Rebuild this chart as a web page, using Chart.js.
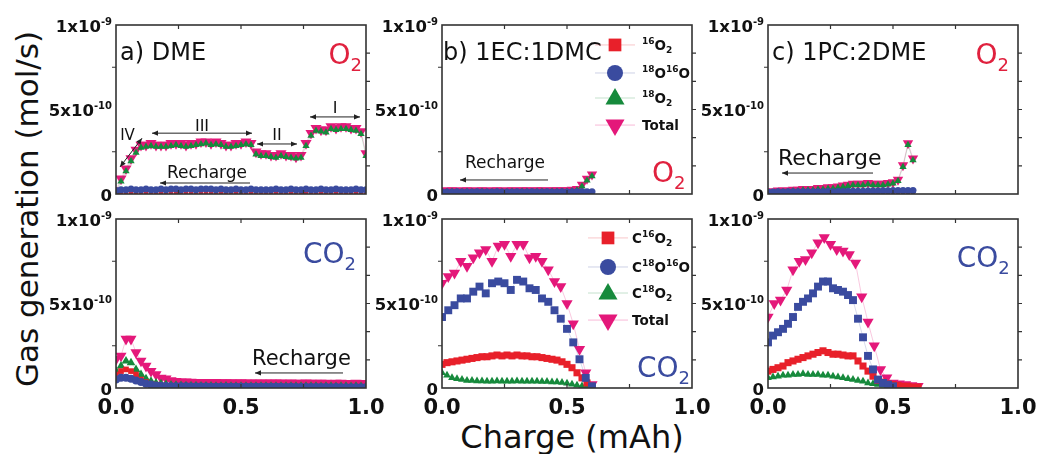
<!DOCTYPE html>
<html>
<head>
<meta charset="utf-8">
<script src="https://cdn.jsdelivr.net/npm/chart.js@4.4.0/dist/chart.umd.min.js"></script>
<style>
  body { margin: 0; background: #fff; }
  #fig { position: relative; width: 1037px; height: 454px; overflow: hidden; font-family: "DejaVu Sans", sans-serif; color: #111; }
  #fig canvas { position: absolute; }
  #ylabel { position: absolute; left: 27px; top: 209px; transform: translate(-50%, -50%) rotate(-90deg); font-size: 31px; line-height: 1; white-space: nowrap; }
  #xlabel { position: absolute; left: 572px; top: 437px; transform: translate(-50%, -50%); font-size: 32px; line-height: 1; white-space: nowrap; }
</style>
</head>
<body>
<div id="fig">
  <div id="ylabel">Gas generation (mol/s)</div>
  <div id="xlabel">Charge (mAh)</div>
</div>
<script>
// charge axis (mAh)
const chargeFine = [0,0.02,0.04,0.06,0.08,0.1,0.12,0.14,0.16,0.18,0.2,0.22,0.24,0.26,0.28,0.3,0.32,0.34,0.36,0.38,0.4,0.42,0.44,0.46,0.48,0.5,0.52,0.54,0.56,0.58,0.6,0.62,0.64,0.66,0.68,0.7,0.72,0.74,0.76,0.78,0.8,0.82,0.84,0.86,0.88,0.9,0.92,0.94,0.96,0.98,1.0];
const chargeCoarse = [0,0.025,0.05,0.075,0.1,0.125,0.15,0.175,0.2,0.225,0.25,0.275,0.3,0.325,0.35,0.375,0.4,0.425,0.45,0.475,0.5,0.525,0.55,0.575,0.6];

// values in units of 1e-10 mol/s
// a) DME, O2
const dmeO2Total = [0.2,0.9,1.5,2.1,2.6,2.9,2.9,3.0,2.9,2.9, 2.9,3.0,3.0,3.0,2.9,3.0,3.0,3.1,3.1,3.0, 3.1,3.0,2.9,2.9,3.0,3.0,3.1,3.0,2.5,2.4, 2.4,2.3,2.3,2.4,2.3,2.3,2.2,2.3,3.0,3.6, 3.9,3.8,3.8,4.0,3.9,4.0,4.0,3.9,3.9,3.7,2.4];
const dmeO2_18 = [0.1,0.75,1.35,1.95,2.45,2.75,2.8,2.85,2.8,2.8, 2.8,2.85,2.9,2.85,2.8,2.85,2.9,2.95,3.0,2.9, 2.95,2.9,2.8,2.8,2.85,2.9,2.95,2.9,2.35,2.25, 2.25,2.2,2.15,2.25,2.2,2.15,2.1,2.15,2.85,3.45, 3.75,3.7,3.65,3.85,3.8,3.85,3.85,3.8,3.75,3.55,2.25];
const dmeO2_1816 = [0.2,0.25,0.25,0.3,0.25,0.25,0.3,0.25,0.25,0.3, 0.25,0.3,0.3,0.25,0.3,0.3,0.25,0.3,0.3,0.3, 0.25,0.3,0.25,0.25,0.3,0.25,0.25,0.3,0.25,0.25, 0.25,0.25,0.3,0.25,0.25,0.3,0.25,0.25,0.3,0.25, 0.25,0.3,0.25,0.25,0.3,0.25,0.25,0.25,0.3,0.25,0.25];
const dmeO2_16 = [0.1,0.1,0.12,0.1,0.1,0.12,0.1,0.1,0.1,0.12, 0.1,0.1,0.12,0.1,0.1,0.1,0.12,0.1,0.1,0.1, 0.12,0.1,0.1,0.1,0.12,0.1,0.1,0.1,0.12,0.1, 0.1,0.1,0.12,0.1,0.1,0.1,0.12,0.1,0.1,0.1, 0.12,0.1,0.1,0.1,0.12,0.1,0.1,0.1,0.12,0.1,0.1];
// a) DME, CO2
const dmeCO2Total = [1.7,1.9,2.9,2.9,2.1,1.6,1.3,1.0,0.8,0.6, 0.55,0.45,0.4,0.38,0.37,0.36,0.35,0.35,0.34,0.34, 0.34,0.33,0.33,0.33,0.32,0.33,0.32,0.32,0.32,0.31, 0.32,0.31,0.31,0.31,0.3,0.31,0.3,0.3,0.31,0.3, 0.3,0.3,0.3,0.29,0.3,0.3,0.29,0.29,0.3,0.29,0.29];
const dmeCO2_18 = [1.0,1.3,1.6,1.5,1.1,0.8,0.55,0.4,0.3,0.25, 0.2,0.18,0.16,0.15,0.14,0.13,0.13,0.12,0.12,0.12, 0.11,0.11,0.12,0.11,0.11,0.1,0.11,0.1,0.1,0.11, 0.1,0.1,0.1,0.11,0.1,0.1,0.1,0.1,0.1,0.1, 0.1,0.09,0.1,0.1,0.09,0.1,0.1,0.09,0.1,0.09,0.09];
const dmeCO2_16 = [0.8,1.0,1.1,1.0,0.8,0.5,0.35,0.25,0.2,0.15, 0.13,0.12,0.11,0.1,0.1,0.1,0.09,0.09,0.1,0.09, 0.09,0.09,0.08,0.09,0.08,0.08,0.09,0.08,0.08,0.08, 0.08,0.08,0.07,0.08,0.08,0.07,0.08,0.07,0.07,0.08, 0.07,0.07,0.07,0.07,0.07,0.06,0.07,0.07,0.06,0.07,0.06];
const dmeCO2_1816 = [0.5,0.6,0.6,0.55,0.45,0.35,0.25,0.2,0.15,0.13, 0.12,0.11,0.1,0.1,0.1,0.09,0.09,0.09,0.09,0.08, 0.08,0.08,0.08,0.08,0.08,0.07,0.08,0.07,0.07,0.07, 0.07,0.07,0.07,0.07,0.06,0.07,0.06,0.06,0.06,0.06, 0.06,0.06,0.06,0.05,0.06,0.05,0.05,0.05,0.05,0.05,0.05];

// b) 1EC:1DMC, O2
const ecO2Total = [0.2,0.2,0.22,0.2,0.2,0.22,0.2,0.2,0.22,0.2, 0.2,0.22,0.2,0.2,0.22,0.2,0.22,0.22,0.2,0.22, 0.22,0.2,0.22,0.22,0.22,0.22,0.25,0.3,0.55,0.9,1.15];
const ecO2_18 = [0.12,0.12,0.14,0.12,0.12,0.14,0.12,0.12,0.14,0.12, 0.12,0.14,0.12,0.12,0.14,0.12,0.14,0.14,0.12,0.14, 0.14,0.12,0.14,0.14,0.14,0.14,0.17,0.22,0.45,0.8,1.05];
const ecO2_1816 = [0.12,0.12,0.12,0.13,0.12,0.12,0.12,0.13,0.12,0.12, 0.12,0.13,0.12,0.12,0.12,0.13,0.12,0.12,0.13,0.12, 0.12,0.13,0.12,0.12,0.13,0.12,0.13,0.13,0.14,0.14,0.14];
const ecO2_16 = [0.05,0.05,0.05,0.05,0.05,0.05,0.05,0.05,0.05,0.05, 0.05,0.05,0.05,0.05,0.05,0.05,0.05,0.05,0.05,0.05, 0.05,0.05,0.05,0.05,0.05,0.05,0.05,0.05,0.06,0.06,0.06];
// b) 1EC:1DMC, CO2
const ecCO2Total = [6.2,6.6,6.8,7.5,7.2,7.7,8.0,8.2,7.5,8.4,8.5,7.8,8.5,8.5,7.7,7.8,7.5,7.0,6.3,6.0,5.0,3.8,2.3,0.9,0.2];
const ecCO2_1816 = [4.2,4.6,4.9,5.3,5.3,5.7,6.0,5.6,6.2,6.3,6.2,5.8,6.4,6.3,5.9,5.8,5.3,5.1,4.6,4.1,3.5,2.7,1.7,0.6,0.1];
const ecCO2_16 = [1.4,1.5,1.55,1.6,1.65,1.7,1.75,1.8,1.85,1.85, 1.9,1.95,1.9,1.95,1.9,1.95,1.9,1.9,1.85,1.85, 1.8,1.75,1.7,1.65,1.55,1.4,1.2,0.9,0.6,0.3,0.1];
const ecCO2_18 = [0.9,0.75,0.6,0.55,0.5,0.45,0.45,0.42,0.42,0.4, 0.4,0.42,0.4,0.4,0.4,0.42,0.4,0.4,0.4,0.4, 0.38,0.38,0.36,0.35,0.32,0.28,0.22,0.17,0.12,0.07,0.03];

// c) 1PC:2DME, O2
const pcO2Total = [0.15,0.15,0.2,0.2,0.2,0.25,0.25,0.3,0.3,0.3, 0.35,0.35,0.4,0.4,0.45,0.5,0.55,0.6,0.6,0.6, 0.65,0.6,0.6,0.6,0.65,0.7,0.85,1.7,3.0,2.1];
const pcO2_18 = [0.08,0.08,0.12,0.12,0.12,0.17,0.17,0.22,0.22,0.22, 0.27,0.27,0.32,0.32,0.37,0.42,0.47,0.52,0.52,0.52, 0.57,0.52,0.52,0.52,0.57,0.62,0.77,1.6,2.9,2.0];
const pcO2_1816 = [0.12,0.12,0.13,0.12,0.13,0.13,0.13,0.14,0.13,0.14, 0.14,0.14,0.15,0.14,0.15,0.15,0.16,0.16,0.17,0.17, 0.18,0.18,0.18,0.19,0.19,0.2,0.2,0.2,0.2,0.2];
const pcO2_16 = [0.05,0.05,0.05,0.05,0.05,0.05,0.05,0.05,0.05,0.05, 0.05,0.05,0.05,0.05,0.05,0.05,0.05,0.05,0.05,0.05, 0.05,0.05,0.05,0.05,0.05,0.05,0.06,0.06,0.06,0.06];
// c) 1PC:2DME, CO2
const pcCO2Total = [4.2,5.0,5.2,5.8,7.0,7.5,7.6,8.0,8.6,8.9,8.5,8.2,8.1,7.9,7.4,5.4,3.9,2.5,1.1,0.6,0.3,0.25,0.2,0.15,0.1];
const pcCO2_1816 = [2.7,3.1,3.3,3.5,3.8,4.2,4.8,5.1,5.3,5.6, 6.0,6.3,6.3,5.9,5.8,5.7,5.5,5.2,4.1,3.0, 1.9,1.1,0.5,0.3,0.2,0.1];
const pcCO2_16 = [1.0,1.1,1.2,1.3,1.5,1.6,1.7,1.8,1.9,2.0, 2.1,2.2,2.1,2.0,2.0,1.95,1.9,1.9,1.6,1.3, 1.0,0.7,0.45,0.35,0.25,0.2,0.15,0.1,0.1,0.05,0.05];
const pcCO2_18 = [0.6,0.65,0.7,0.75,0.75,0.8,0.8,0.85,0.8,0.8, 0.8,0.75,0.75,0.7,0.65,0.6,0.55,0.5,0.45,0.4, 0.3,0.25,0.2,0.15,0.1,0.05];

// axis ticks
const xTickValues = [0, 0.5, 1];
const xTickLabels = ['0.0', '0.5', '1.0'];
const xMinorTicks = [0.25, 0.5, 0.75];
const yTickValues = [0, 5, 10];
const yTickLabels = ['0', '5x10^{-10}', '1x10^{-9}'];
const yLeftTicks = [2.5, 7.5];
const yRightTicks = [1.667, 3.333, 5, 6.667, 8.333];

const legendO2 = ['^{16}O_{2}', '^{18}O^{16}O', '^{18}O_{2}', 'Total'];
const legendCO2 = ['C^{16}O_{2}', 'C^{18}O^{16}O', 'C^{18}O_{2}', 'Total'];

const FONT = '"DejaVu Sans", sans-serif';
const RED = '#e8202a', BLUE = '#3a4b9f', GREEN = '#168a3c', PINK = '#e4187a';
const O2RED = '#e0213e';

const STYLE = {
  red:   { color: RED,   line: 'rgba(232,32,42,0.25)',  pointStyle: 'rect',     rotation: 0 },
  blue:  { color: BLUE,  line: 'rgba(58,75,159,0.25)',  pointStyle: 'circle',   rotation: 0 },
  blueSq:{ color: BLUE,  line: 'rgba(58,75,159,0.25)',  pointStyle: 'rect',     rotation: 0 },
  green: { color: GREEN, line: 'rgba(22,138,60,0.25)',  pointStyle: 'triangle', rotation: 0 },
  pink:  { color: PINK,  line: 'rgba(228,24,122,0.3)',  pointStyle: 'triangle', rotation: 180 }
};

function series(xs, ys, kind, r) {
  const s = STYLE[kind];
  return {
    data: ys.map((y, i) => ({ x: xs[i], y })),
    showLine: true,
    borderColor: s.line,
    borderWidth: 0.8,
    pointStyle: s.pointStyle,
    pointRotation: s.rotation,
    pointRadius: r,
    pointBackgroundColor: s.color,
    pointBorderWidth: 0
  };
}

function parseRich(s) {
  const parts = [];
  const re = /([\^_])\{([^}]*)\}|([^\^_]+)/g;
  let m;
  while ((m = re.exec(s))) {
    if (m[3]) parts.push({ t: m[3], mode: '' });
    else parts.push({ t: m[2], mode: m[1] === '^' ? 'sup' : 'sub' });
  }
  return parts;
}

function drawRich(ctx, s, x, y, o) {
  const size = o.size, wt = o.weight || 'normal', k = o.subScale || 0.65;
  const parts = parseRich(s);
  const fontFor = p => `${wt} ${p.mode ? Math.round(size * k) : size}px ${FONT}`;
  let w = 0;
  parts.forEach(p => { ctx.font = fontFor(p); p.w = ctx.measureText(p.t).width; w += p.w; });
  let cx = o.align === 'right' ? x - w : o.align === 'center' ? x - w / 2 : x;
  ctx.fillStyle = o.color || '#111';
  ctx.textAlign = 'left';
  ctx.textBaseline = 'alphabetic';
  parts.forEach(p => {
    ctx.font = fontFor(p);
    const dy = p.mode === 'sup' ? -size * 0.42 : p.mode === 'sub' ? size * 0.24 : 0;
    ctx.fillText(p.t, cx, y + dy);
    cx += p.w;
  });
}

function drawArrow(ctx, x1, y1, x2, y2, heads) {
  const ang = Math.atan2(y2 - y1, x2 - x1), L = 6, W = 2.6;
  ctx.beginPath(); ctx.moveTo(x1, y1); ctx.lineTo(x2, y2); ctx.stroke();
  const head = (x, y, a) => {
    ctx.beginPath();
    ctx.moveTo(x, y);
    ctx.lineTo(x - L * Math.cos(a) + W * Math.sin(a), y - L * Math.sin(a) - W * Math.cos(a));
    ctx.lineTo(x - L * Math.cos(a) - W * Math.sin(a), y - L * Math.sin(a) + W * Math.cos(a));
    ctx.closePath(); ctx.fill();
  };
  if (heads === 'both' || heads === 'end') head(x2, y2, ang);
  if (heads === 'both' || heads === 'start') head(x1, y1, ang + Math.PI);
}

function marker(ctx, style, r, x, y) {
  const s = STYLE[style];
  ctx.fillStyle = s.color;
  if (Chart.helpers && Chart.helpers.drawPoint) {
    Chart.helpers.drawPoint(ctx, { pointStyle: s.pointStyle, rotation: s.rotation, radius: r, borderWidth: 0 }, x, y);
  }
}

const decor = {
  id: 'decor',
  afterDatasetsDraw(chart, args, opts) {
    const { ctx, chartArea: a, scales: { x, y } } = chart;
    ctx.save();
    ctx.strokeStyle = '#333';
    ctx.lineWidth = 1.6;
    ctx.strokeRect(a.left, a.top, a.right - a.left, a.bottom - a.top);
    ctx.lineWidth = 1.2;
    ctx.beginPath();
    xMinorTicks.forEach(v => {
      const px = x.getPixelForValue(v);
      ctx.moveTo(px, a.top); ctx.lineTo(px, a.top + 4);
      ctx.moveTo(px, a.bottom); ctx.lineTo(px, a.bottom - 4);
    });
    yLeftTicks.forEach(v => {
      const py = y.getPixelForValue(v);
      ctx.moveTo(a.left, py); ctx.lineTo(a.left - 4, py);
    });
    yRightTicks.forEach(v => {
      const py = y.getPixelForValue(v);
      ctx.moveTo(a.right, py); ctx.lineTo(a.right + 4, py);
    });
    ctx.stroke();

    yTickValues.forEach((v, i) => {
      drawRich(ctx, yTickLabels[i], a.left - 4, y.getPixelForValue(v) + 6.5, { size: 16.5, weight: 'bold', align: 'right', subScale: 0.6 });
    });
    if (opts.xLabels) {
      xTickValues.forEach((v, i) => {
        drawRich(ctx, xTickLabels[i], x.getPixelForValue(v), a.bottom + 26, { size: 21, weight: 'bold', align: 'center' });
      });
    }

    ctx.strokeStyle = '#222'; ctx.fillStyle = '#222'; ctx.lineWidth = 1;
    (opts.arrows || []).forEach(ar => {
      drawArrow(ctx, x.getPixelForValue(ar.x1), y.getPixelForValue(ar.y1), x.getPixelForValue(ar.x2), y.getPixelForValue(ar.y2), ar.heads);
    });

    (opts.texts || []).forEach(t => {
      drawRich(ctx, t.text, x.getPixelForValue(t.x), y.getPixelForValue(t.y), t);
    });

    if (opts.legend) {
      const lg = opts.legend;
      const kinds = ['red', 'blue', 'green', 'pink'];
      const radii = [9, 8, 11, 11];
      const mx = x.getPixelForValue(lg.x), tx = x.getPixelForValue(lg.textX);
      lg.rows.forEach((ry, i) => {
        const py = y.getPixelForValue(ry);
        ctx.strokeStyle = STYLE[kinds[i]].line; ctx.lineWidth = 1;
        ctx.beginPath(); ctx.moveTo(mx - 20, py); ctx.lineTo(mx + 20, py); ctx.stroke();
        marker(ctx, kinds[i], radii[i], mx, py + (i === 2 ? 1 : 0));
        drawRich(ctx, lg.labels[i], tx, py + 5, { size: 13.5, weight: 'bold', subScale: 0.65 });
      });
    }
    ctx.restore();
  }
};

const PAD = { left: 80, right: 22, top: 20, bottom: 48 };
const PLOT_W = 250, PLOT_H = 169;

function makePanel(left, top, datasets, decorOpts) {
  const cv = document.createElement('canvas');
  cv.width = PLOT_W + PAD.left + PAD.right;
  cv.height = PLOT_H + PAD.top + PAD.bottom;
  cv.style.left = (left - PAD.left) + 'px';
  cv.style.top = (top - PAD.top) + 'px';
  document.getElementById('fig').appendChild(cv);
  return new Chart(cv, {
    type: 'scatter',
    data: { datasets },
    options: {
      responsive: false,
      animation: false,
      events: [],
      layout: { padding: PAD },
      scales: {
        x: { type: 'linear', min: 0, max: 1, display: false },
        y: { type: 'linear', min: 0, max: 10, display: false }
      },
      plugins: { legend: { display: false }, tooltip: { enabled: false }, decor: decorOpts }
    },
    plugins: [decor]
  });
}

const bigO2 = (x, y) => ({ text: 'O_{2}', x, y, size: 28, color: O2RED, subScale: 0.66 });
const bigCO2 = (x, y) => ({ text: 'CO_{2}', x, y, size: 28, color: BLUE, subScale: 0.66 });

// a) DME top
makePanel(116, 25, [
  series(chargeFine, dmeO2_1816, 'blue', 3.5),
  series(chargeFine, dmeO2_16, 'red', 3),
  series(chargeFine, dmeO2_18, 'green', 4.2),
  series(chargeFine, dmeO2Total, 'pink', 6.4)
], {
  texts: [
    { text: 'a) DME', x: 0.016, y: 7.93, size: 24 },
    bigO2(0.85, 7.69),
    { text: 'IV', x: 0.046, y: 3.2, size: 15, align: 'center' },
    { text: 'III', x: 0.344, y: 3.75, size: 16, align: 'center' },
    { text: 'II', x: 0.644, y: 3.2, size: 16, align: 'center' },
    { text: 'I', x: 0.876, y: 4.79, size: 16, align: 'center' },
    { text: 'Recharge', x: 0.204, y: 0.95, size: 17 }
  ],
  arrows: [
    { x1: 0.016, y1: 1.6, x2: 0.104, y2: 3.3, heads: 'both' },
    { x1: 0.144, y1: 3.6, x2: 0.544, y2: 3.6, heads: 'both' },
    { x1: 0.564, y1: 2.96, x2: 0.724, y2: 2.96, heads: 'both' },
    { x1: 0.776, y1: 4.56, x2: 0.976, y2: 4.56, heads: 'both' },
    { x1: 0.536, y1: 0.65, x2: 0.176, y2: 0.65, heads: 'end' }
  ]
});

// b) 1EC:1DMC top
makePanel(442, 25, [
  series(chargeFine, ecO2_1816, 'blue', 3.5),
  series(chargeFine, ecO2_16, 'red', 3),
  series(chargeFine, ecO2_18, 'green', 4.2),
  series(chargeFine, ecO2Total, 'pink', 6)
], {
  texts: [
    { text: 'b) 1EC:1DMC', x: 0.004, y: 7.93, size: 24 },
    bigO2(0.84, 0.71),
    { text: 'Recharge', x: 0.092, y: 1.54, size: 17 }
  ],
  arrows: [{ x1: 0.424, y1: 0.83, x2: 0.072, y2: 0.83, heads: 'end' }],
  legend: { x: 0.692, textX: 0.8, rows: [8.82, 7.16, 5.68, 4.08], labels: legendO2 }
});

// c) 1PC:2DME top
makePanel(768, 25, [
  series(chargeFine, pcO2_1816, 'blue', 3.5),
  series(chargeFine, pcO2_16, 'red', 3),
  series(chargeFine, pcO2_18, 'green', 4.2),
  series(chargeFine, pcO2Total, 'pink', 6)
], {
  texts: [
    { text: 'c) 1PC:2DME', x: 0.016, y: 7.93, size: 24 },
    bigO2(0.83, 7.69),
    { text: 'Recharge', x: 0.04, y: 1.72, size: 22 }
  ],
  arrows: [{ x1: 0.42, y1: 1.24, x2: 0.056, y2: 1.24, heads: 'end' }]
});

// a) DME bottom
makePanel(116, 219, [
  series(chargeFine, dmeCO2_1816, 'blue', 4),
  series(chargeFine, dmeCO2_16, 'red', 4),
  series(chargeFine, dmeCO2_18, 'green', 5),
  series(chargeFine, dmeCO2Total, 'pink', 6.4)
], {
  xLabels: true,
  texts: [
    bigCO2(0.748, 7.4),
    { text: 'Recharge', x: 0.544, y: 1.36, size: 21 }
  ],
  arrows: [{ x1: 0.908, y1: 0.89, x2: 0.556, y2: 0.89, heads: 'end' }]
});

// b) 1EC:1DMC bottom
makePanel(442, 219, [
  series(chargeCoarse, ecCO2_1816, 'blueSq', 5.6),
  series(chargeFine, ecCO2_16, 'red', 5),
  series(chargeFine, ecCO2_18, 'green', 4.5),
  series(chargeCoarse, ecCO2Total, 'pink', 6.5)
], {
  xLabels: true,
  texts: [bigCO2(0.78, 0.65)],
  legend: { x: 0.664, textX: 0.76, rows: [8.88, 7.16, 5.62, 4.02], labels: legendCO2 }
});

// c) 1PC:2DME bottom
makePanel(768, 219, [
  series(chargeFine, pcCO2_1816, 'blueSq', 5.6),
  series(chargeFine, pcCO2_16, 'red', 5),
  series(chargeFine, pcCO2_18, 'green', 4.5),
  series(chargeCoarse, pcCO2Total, 'pink', 6.5)
], {
  xLabels: true,
  texts: [bigCO2(0.755, 7.16)]
});
</script>
</body>
</html>
